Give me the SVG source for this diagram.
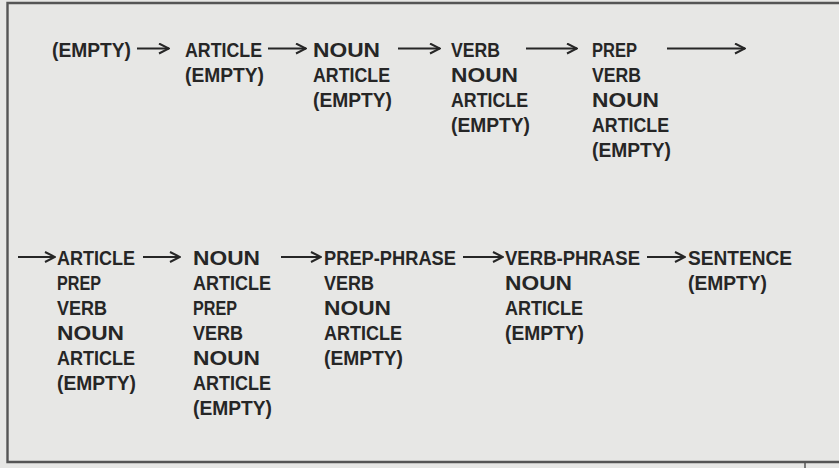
<svg xmlns="http://www.w3.org/2000/svg" width="839" height="468" viewBox="0 0 839 468">
<defs>
<style>
.bg{fill:#e7e7e5}
.frame{stroke:#555555;stroke-width:2.4;fill:none}
text{font-family:"Liberation Sans","DejaVu Sans",sans-serif;font-weight:bold;font-size:19.5px;fill:#262626}
.c line{stroke:#262626;stroke-width:2;marker-end:url(#ah)}
</style>
<marker id="ah" markerUnits="userSpaceOnUse" viewBox="0 0 12 12" refX="11" refY="6" markerWidth="12" markerHeight="12" orient="auto">
<path d="M1,1 L11,6 L1,11" fill="none" stroke="#262626" stroke-width="2" stroke-linejoin="miter"/>
</marker>
</defs>
<rect class="bg" x="0" y="0" width="839" height="468"/>
<path class="frame" d="M839,3 H7.5 V462 H839"/>
<line x1="805" y1="462" x2="805" y2="468" stroke="#555555" stroke-width="1.5"/>

<g id="s1">
<text x="52" y="56.5" textLength="79" lengthAdjust="spacingAndGlyphs">(EMPTY)</text>
</g>
<g id="s2">
<text x="185" y="56.5" textLength="77" lengthAdjust="spacingAndGlyphs">ARTICLE</text>
<text x="185" y="81.5" textLength="79" lengthAdjust="spacingAndGlyphs">(EMPTY)</text>
</g>
<g id="s3">
<text x="313" y="56.5" textLength="67" lengthAdjust="spacingAndGlyphs">NOUN</text>
<text x="313" y="81.5" textLength="77" lengthAdjust="spacingAndGlyphs">ARTICLE</text>
<text x="313" y="106.5" textLength="79" lengthAdjust="spacingAndGlyphs">(EMPTY)</text>
</g>
<g id="s4">
<text x="451" y="56.5" textLength="49" lengthAdjust="spacingAndGlyphs">VERB</text>
<text x="451" y="81.5" textLength="67" lengthAdjust="spacingAndGlyphs">NOUN</text>
<text x="451" y="106.5" textLength="77" lengthAdjust="spacingAndGlyphs">ARTICLE</text>
<text x="451" y="131.5" textLength="79" lengthAdjust="spacingAndGlyphs">(EMPTY)</text>
</g>
<g id="s5">
<text x="592" y="56.5" textLength="45" lengthAdjust="spacingAndGlyphs">PREP</text>
<text x="592" y="81.5" textLength="49" lengthAdjust="spacingAndGlyphs">VERB</text>
<text x="592" y="106.5" textLength="67" lengthAdjust="spacingAndGlyphs">NOUN</text>
<text x="592" y="131.5" textLength="77" lengthAdjust="spacingAndGlyphs">ARTICLE</text>
<text x="592" y="156.5" textLength="79" lengthAdjust="spacingAndGlyphs">(EMPTY)</text>
</g>
<g id="s6">
<text x="57" y="265" textLength="78" lengthAdjust="spacingAndGlyphs">ARTICLE</text>
<text x="57" y="290" textLength="44" lengthAdjust="spacingAndGlyphs">PREP</text>
<text x="57" y="315" textLength="50" lengthAdjust="spacingAndGlyphs">VERB</text>
<text x="57" y="340" textLength="67" lengthAdjust="spacingAndGlyphs">NOUN</text>
<text x="57" y="365" textLength="78" lengthAdjust="spacingAndGlyphs">ARTICLE</text>
<text x="57" y="390" textLength="79" lengthAdjust="spacingAndGlyphs">(EMPTY)</text>
</g>
<g id="s7">
<text x="193" y="265" textLength="67" lengthAdjust="spacingAndGlyphs">NOUN</text>
<text x="193" y="290" textLength="78" lengthAdjust="spacingAndGlyphs">ARTICLE</text>
<text x="193" y="315" textLength="44" lengthAdjust="spacingAndGlyphs">PREP</text>
<text x="193" y="340" textLength="50" lengthAdjust="spacingAndGlyphs">VERB</text>
<text x="193" y="365" textLength="67" lengthAdjust="spacingAndGlyphs">NOUN</text>
<text x="193" y="390" textLength="78" lengthAdjust="spacingAndGlyphs">ARTICLE</text>
<text x="193" y="415" textLength="79" lengthAdjust="spacingAndGlyphs">(EMPTY)</text>
</g>
<g id="s8">
<text x="324" y="265" textLength="132" lengthAdjust="spacingAndGlyphs">PREP-PHRASE</text>
<text x="324" y="290" textLength="50" lengthAdjust="spacingAndGlyphs">VERB</text>
<text x="324" y="315" textLength="67" lengthAdjust="spacingAndGlyphs">NOUN</text>
<text x="324" y="340" textLength="78" lengthAdjust="spacingAndGlyphs">ARTICLE</text>
<text x="324" y="365" textLength="79" lengthAdjust="spacingAndGlyphs">(EMPTY)</text>
</g>
<g id="s9">
<text x="505" y="265" textLength="135" lengthAdjust="spacingAndGlyphs">VERB-PHRASE</text>
<text x="505" y="290" textLength="67" lengthAdjust="spacingAndGlyphs">NOUN</text>
<text x="505" y="315" textLength="78" lengthAdjust="spacingAndGlyphs">ARTICLE</text>
<text x="505" y="340" textLength="79" lengthAdjust="spacingAndGlyphs">(EMPTY)</text>
</g>
<g id="s10">
<text x="688" y="265" textLength="104" lengthAdjust="spacingAndGlyphs">SENTENCE</text>
<text x="688" y="290" textLength="79" lengthAdjust="spacingAndGlyphs">(EMPTY)</text>
</g>

<g class="c" id="connectors">
<line x1="137" y1="48.5" x2="169" y2="48.5"/>
<line x1="268" y1="48.5" x2="306" y2="48.5"/>
<line x1="398" y1="48.5" x2="440" y2="48.5"/>
<line x1="526" y1="48.5" x2="577" y2="48.5"/>
<line x1="667" y1="48.5" x2="745" y2="48.5"/>
<line x1="18" y1="257" x2="55" y2="257"/>
<line x1="143" y1="257" x2="180" y2="257"/>
<line x1="281" y1="257" x2="321" y2="257"/>
<line x1="463" y1="257" x2="503" y2="257"/>
<line x1="647" y1="257" x2="685" y2="257"/>
</g>
</svg>
